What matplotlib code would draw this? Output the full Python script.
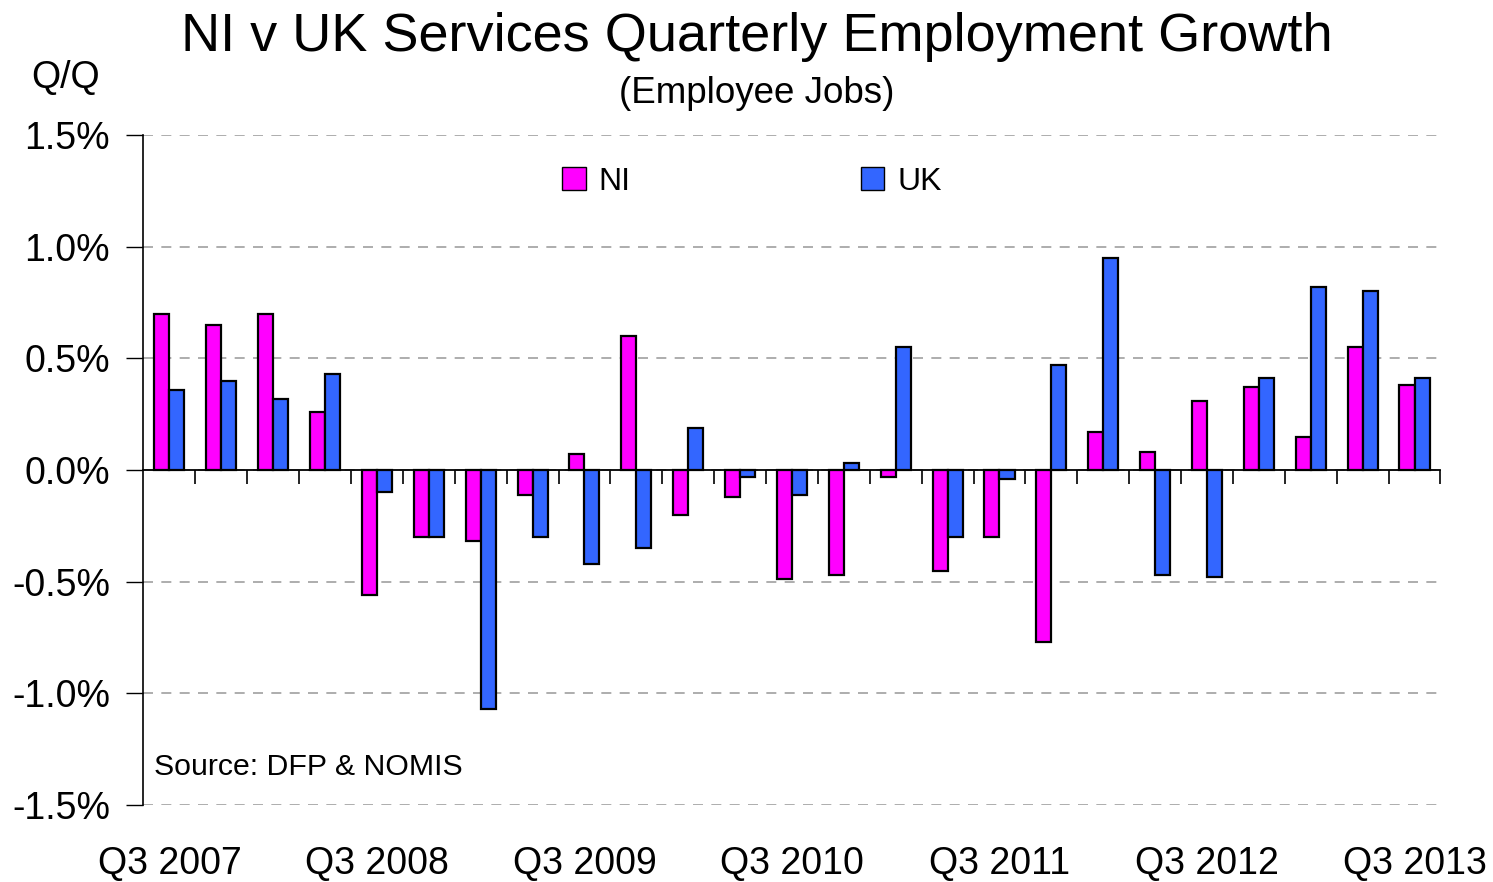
import numpy as np
import matplotlib.pyplot as plt
from matplotlib.patches import Patch
from matplotlib.ticker import FuncFormatter

plt.rcParams['font.family'] = ['Liberation Sans', 'DejaVu Sans']

# quarters Q3 2007 .. Q3 2013
quarters = [
    "Q3 2007", "Q4 2007", "Q1 2008", "Q2 2008",
    "Q3 2008", "Q4 2008", "Q1 2009", "Q2 2009",
    "Q3 2009", "Q4 2009", "Q1 2010", "Q2 2010",
    "Q3 2010", "Q4 2010", "Q1 2011", "Q2 2011",
    "Q3 2011", "Q4 2011", "Q1 2012", "Q2 2012",
    "Q3 2012", "Q4 2012", "Q1 2013", "Q2 2013",
    "Q3 2013",
]

# quarter-on-quarter growth, %
ni_growth = [
    0.70, 0.65, 0.70, 0.26,
    -0.56, -0.30, -0.32, -0.11,
    0.07, 0.60, -0.20, -0.12,
    -0.49, -0.47, -0.03, -0.45,
    -0.30, -0.77, 0.17, 0.08,
    0.31, 0.37, 0.15, 0.55,
    0.38,
]

uk_growth = [
    0.36, 0.40, 0.32, 0.43,
    -0.10, -0.30, -1.07, -0.30,
    -0.42, -0.35, 0.19, -0.03,
    -0.11, 0.03, 0.55, -0.30,
    -0.04, 0.47, 0.95, -0.47,
    -0.48, 0.41, 0.82, 0.80,
    0.41,
]

ni_color = "#FF00FF"
uk_color = "#3366FF"

fig = plt.figure(figsize=(14.93, 8.82), dpi=100)
ax = fig.add_axes([0.0961, 0.0873, 0.8687, 0.7596])

x = np.arange(len(quarters))
bar_w = 0.29

ax.bar(x - bar_w / 2, ni_growth, width=bar_w, color=ni_color,
       edgecolor="black", linewidth=1.6, zorder=3)
ax.bar(x + bar_w / 2, uk_growth, width=bar_w, color=uk_color,
       edgecolor="black", linewidth=1.6, zorder=3)

ax.set_xlim(-0.5, len(quarters) - 0.5)
ax.set_ylim(-1.5, 1.5)

# y axis
ax.set_yticks(np.arange(-1.5, 1.51, 0.5))
ax.yaxis.set_major_formatter(FuncFormatter(lambda v, p: f"{v:.1f}%"))
ax.tick_params(axis="y", direction="out", length=12, width=1,
               labelsize=27, pad=12)
ax.grid(axis="y", color="#A0A0A0", linestyle=(0, (6, 5)), linewidth=1.2,
        zorder=0)

# zero line with category boundary ticks
for side in ("top", "right"):
    ax.spines[side].set_visible(False)
ax.spines["bottom"].set_position(("data", 0))
ax.spines["bottom"].set_linewidth(1.3)
ax.spines["bottom"].set_zorder(4)
ax.spines["left"].set_linewidth(1.2)
ax.set_xticks(np.arange(0.5, len(quarters) - 0.4, 1.0))
ax.set_xticklabels([])
ax.tick_params(axis="x", direction="out", length=10, width=1.2)

# annual labels along the bottom
for i in range(0, len(quarters), 4):
    ax.text(i, -0.088, quarters[i], transform=ax.get_xaxis_transform(),
            ha="center", va="center", fontsize=27)

fig.text(0.507, 0.958, "NI v UK Services Quarterly Employment Growth",
         ha="center", va="center", fontsize=39)
fig.text(0.507, 0.894, "(Employee Jobs)", ha="center", va="center",
         fontsize=26.5)
fig.text(0.044, 0.912, "Q/Q", ha="center", va="center", fontsize=27)

ax.text(0.008, 0.057, "Source: DFP & NOMIS", transform=ax.transAxes,
        ha="left", va="center", fontsize=21.8,
        bbox=dict(facecolor="white", edgecolor="none", pad=2))

handles = [
    Patch(facecolor=ni_color, edgecolor="black", label="NI"),
    Patch(facecolor=uk_color, edgecolor="black", label="UK"),
]
ax.legend(handles=handles, loc="center", bbox_to_anchor=(0.469, 0.93),
          ncol=2, frameon=False, fontsize=23, handlelength=0.75,
          handleheight=0.75, handletextpad=0.4, columnspacing=7.2)

fig.savefig("out.png", dpi=100)
